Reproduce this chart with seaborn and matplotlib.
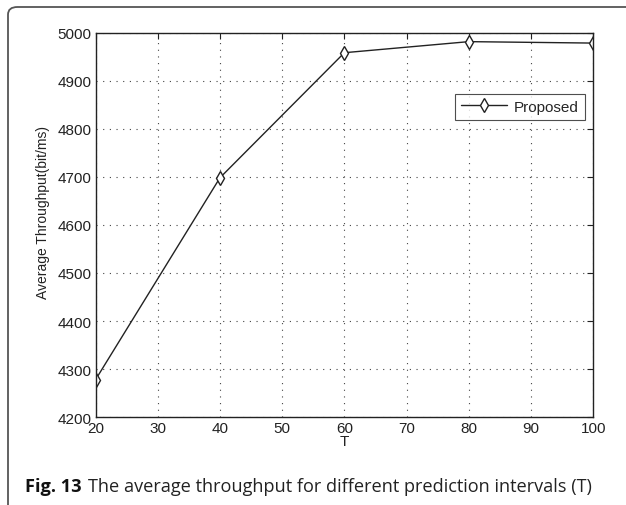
import matplotlib
matplotlib.use("Agg")
import matplotlib.pyplot as plt
import seaborn as sns
import pandas as pd
from matplotlib.patches import FancyBboxPatch

T = [20, 40, 60, 80, 100]
throughput = [4278, 4698, 4958, 4981, 4978]
series_name = "Proposed"
xticks = [20, 30, 40, 50, 60, 70, 80, 90, 100]
yticks = [4200, 4300, 4400, 4500, 4600, 4700, 4800, 4900, 5000]

sns.set_theme(style="white")
plt.rcParams['font.family'] = ['Liberation Sans', 'DejaVu Sans']

df = pd.DataFrame({"T": T, "Throughput": throughput, "Series": series_name})

fig = plt.figure(figsize=(6.26, 5.06), dpi=100)
# outer frame
frame = FancyBboxPatch((8/626, -0.2), 1.2, 1.2 - 8/506,
                       boxstyle="round,pad=0,rounding_size=0.015",
                       transform=fig.transFigure, fill=False,
                       edgecolor="#555555", linewidth=1.3, clip_on=False)
fig.patches.append(frame)

ax = fig.add_axes([95.5/626, 1 - 418.3/506, (593.3 - 95.5)/626, (418.3 - 33.5)/506])
sns.lineplot(data=df, x="T", y="Throughput", hue="Series", palette=["#222222"],
             marker="d", markersize=7.3, markerfacecolor="white",
             markeredgecolor="#222222", markeredgewidth=1.0, linewidth=1.0, ax=ax)

ax.set_xlim(20, 100)
ax.set_ylim(4200, 5000)
ax.set_xticks(xticks)
ax.set_yticks(yticks)
ax.tick_params(direction="in", top=True, right=True, length=4, width=0.8,
               labelsize=11, colors="#222222", pad=3)
ax.grid(True, linestyle=(0, (1, 5)), color="#444444", linewidth=0.8)
for s in ax.spines.values():
    s.set_color("#222222")
    s.set_linewidth(1.0)
ax.set_xlabel("T", fontsize=11, labelpad=-1, color="#222222")
ax.set_ylabel("Average Throughput(bit/ms)", fontsize=10, color="#222222")
ax.yaxis.set_label_coords(-0.092, 0.536)

leg = ax.legend(loc="upper right", bbox_to_anchor=(0.999, 0.861), frameon=True,
                fancybox=False, edgecolor="#222222", fontsize=11,
                handlelength=3.0, borderpad=0.4, handletextpad=0.5)
leg.get_frame().set_linewidth(0.8)

fig.text(25/626, 1 - 487/506, "Fig. 13", fontsize=13.1, fontweight="bold",
         family=["Open Sans", "DejaVu Sans"], va="center", ha="left", color="#111111")
fig.text(88/626, 1 - 487/506, "The average throughput for different prediction intervals (T)",
         fontsize=13.1, family=["Open Sans", "DejaVu Sans"], va="center", ha="left",
         color="#222222")

fig.savefig("out.png", dpi=100)
